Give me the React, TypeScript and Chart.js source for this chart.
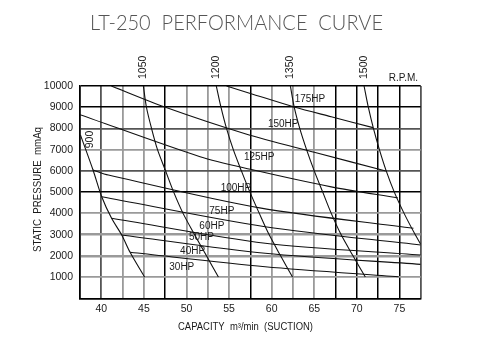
import React, { useEffect, useRef } from 'react';
import { Chart, registerables } from 'chart.js';

Chart.register(...registerables);

// ---- text ----
const chartTitle = 'LT-250  PERFORMANCE  CURVE';
const xAxisTitle = 'CAPACITY  m³/min  (SUCTION)';
const yAxisTitle = 'STATIC  PRESSURE  mmAq';
const rpmUnit = 'R.P.M.';

// ---- axes ----
const xMin = 37.5;
const xMax = 77.5;
const xStep = 2.5;
const xLabelEvery = 5;
const yMin = 0;
const yMax = 10000;
const yStep = 1000;
const xDarkGrid = [37.5, 47.5, 57.5, 67.5, 70, 72.5, 75];
const xMidGrid = [40, 77.5];
const yDarkGrid = [0, 5000, 9000, 10000];
const yMidGrid = [6000, 8000];
const yDoubleGrid = [2000, 3000];

// ---- constant-speed curves (capacity, pressure) ----
const rpmLabels = ['900', '1050', '1200', '1350', '1500'];
const rpm900 = [[37.55, 7700], [39.03, 6044], [40.05, 4786], [41.21, 3768], [42.4, 2982], [43.38, 2167], [45.08, 1000]];
const rpm1050 = [[44.94, 10000], [45.3, 9000], [45.9, 8000], [46.6, 7000], [47.55, 6000], [48.5, 5000], [49.6, 4000], [50.95, 3000], [52.35, 2000], [53.75, 1000]];
const rpm1200 = [[53.5, 10000], [54.05, 9000], [54.7, 8000], [55.5, 7000], [56.45, 6000], [57.45, 5000], [58.55, 4000], [59.7, 3000], [61.05, 2000], [62.45, 1000]];
const rpm1350 = [[62.2, 10000], [62.65, 9000], [63.3, 8000], [64.1, 7000], [65.0, 6000], [66.0, 5000], [67.0, 4000], [68.15, 3000], [69.55, 2000], [71.0, 1000]];
const rpm1500 = [[70.85, 10000], [71.35, 9000], [71.95, 8000], [72.65, 7000], [73.45, 6000], [74.4, 5000], [75.55, 4000], [76.85, 3000], [77.5, 2550]];
const rpm900LabelAt = [38.73, 7480];

// ---- constant-power lines (capacity, pressure) ----
const hp175 = [[54.7, 10000], [57.5, 9650], [62.65, 9010], [67.0, 8550], [71.9, 8040]];
const hp150 = [[41.18, 10000], [47.45, 9011], [56.89, 7753], [65.0, 6880], [73.4, 6000]];
const hp125 = [[37.5, 8650], [51.6, 6670], [57.5, 6076], [67.0, 5250], [74.8, 4730]];
const hp100 = [[39.03, 6044], [40.83, 5808], [58.6, 4260], [76.65, 3300]];
const hp75 = [[40.05, 4786], [59.24, 3373], [77.5, 2511]];
const hp60 = [[41.21, 3768], [59.24, 2591], [77.5, 2040]];
const hp50 = [[42.4, 2982], [59.24, 2120], [77.5, 1600]];
const hp40 = [[43.38, 2167], [59.24, 1488], [74.91, 1017]];

const hpLabels = ['175HP', '150HP', '125HP', '100HP', '75HP', '60HP', '50HP', '40HP', '30HP'];
const hpLabelX = [64.5, 61.36, 58.54, 55.81, 54.15, 52.98, 51.76, 50.72, 49.45];
const hpLabelY = [9374, 8177, 6656, 5181, 4079, 3406, 2854, 2228, 1441];

const curves = [rpm900, rpm1050, rpm1200, rpm1350, rpm1500, hp175, hp150, hp125, hp100, hp75, hp60, hp50, hp40];

const SANS = '"Liberation Sans", Arial, sans-serif';

const textPlugin = {
  id: 'chartTexts',
  afterDraw(chart: any) {
    const { ctx, scales } = chart;
    const xs = scales.x;
    const ys = scales.y;
    ctx.save();

    // main title
    ctx.fillStyle = '#555';
    ctx.font = '300 21px Lato, ' + SANS;
    ctx.textAlign = 'center';
    ctx.textBaseline = 'middle';
    ctx.fillText(chartTitle, 236.5, 23, 293);

    ctx.fillStyle = '#1a1a1a';

    // y-axis title
    ctx.save();
    ctx.font = '10px ' + SANS;
    ctx.translate(38, 189.5);
    ctx.rotate(-Math.PI / 2);
    ctx.fillText(yAxisTitle, 0, 0, 125);
    ctx.restore();

    // x-axis title
    ctx.font = '10px ' + SANS;
    ctx.fillText(xAxisTitle, 245.5, 327, 135);

    // rpm labels above the plot
    ctx.font = '10.5px ' + SANS;
    const rpmCurves = [rpm900, rpm1050, rpm1200, rpm1350, rpm1500];
    for (let i = 1; i < rpmCurves.length; i++) {
      const px = xs.getPixelForValue(rpmCurves[i][0][0]);
      ctx.save();
      ctx.translate(px, 79);
      ctx.rotate(-Math.PI / 2);
      ctx.textAlign = 'left';
      ctx.fillText(rpmLabels[i], 0, 0);
      ctx.restore();
    }
    // 900 label inside plot
    ctx.save();
    ctx.translate(xs.getPixelForValue(rpm900LabelAt[0]), ys.getPixelForValue(rpm900LabelAt[1]));
    ctx.rotate(-Math.PI / 2);
    ctx.textAlign = 'center';
    ctx.fillText(rpmLabels[0], 0, 0);
    ctx.restore();

    ctx.font = '10px ' + SANS;
    ctx.fillText(rpmUnit, 403.5, 78);

    // HP labels
    ctx.font = '10px ' + SANS;
    for (let i = 0; i < hpLabels.length; i++) {
      ctx.fillText(hpLabels[i], xs.getPixelForValue(hpLabelX[i]), ys.getPixelForValue(hpLabelY[i]));
    }
    ctx.restore();
  },
};

const near = (v: number, arr: number[]) => arr.some((a) => Math.abs(a - v) < 1e-6);

export default function App() {
  const ref = useRef<HTMLCanvasElement | null>(null);

  useEffect(() => {
    if (!ref.current) return;
    const chart = new Chart(ref.current, {
      type: 'scatter',
      data: {
        datasets: curves.map((c) => ({
          data: c.map(([x, y]) => ({ x, y })),
          showLine: true,
          borderColor: '#111',
          borderWidth: 1.1,
          pointRadius: 0,
          tension: 0.3,
          fill: false,
        })),
      },
      options: {
        animation: false,
        responsive: false,
        devicePixelRatio: 1,
        events: [],
        layout: { padding: { top: 86, right: 71.3, bottom: 0, left: 0 } },
        plugins: { legend: { display: false }, tooltip: { enabled: false }, title: { display: false } },
        scales: {
          x: {
            type: 'linear',
            min: xMin,
            max: xMax,
            afterFit: (s: any) => { s.height = 55.7; },
            ticks: {
              stepSize: xStep,
              autoSkip: false,
              maxRotation: 0,
              padding: 5,
              color: '#1a1a1a',
              font: { family: SANS, size: 10.5 },
              callback: (v: any) => (Math.abs(v % xLabelEvery) < 1e-6 ? String(v) : ''),
            },
            grid: {
              drawTicks: false,
              color: (c: any) => (near(c.tick.value, xDarkGrid) ? '#000' : near(c.tick.value, xMidGrid) ? '#555' : '#9a9a9a'),
              lineWidth: (c: any) => (near(c.tick.value, xDarkGrid) ? 1.5 : 1.8),
            },
            border: { display: true, color: '#000', width: 1.6 },
          },
          y: {
            type: 'linear',
            min: yMin,
            max: yMax,
            afterFit: (s: any) => { s.width = 80; },
            ticks: {
              stepSize: yStep,
              autoSkip: false,
              padding: 7,
              color: '#1a1a1a',
              font: { family: SANS, size: 10.5 },
              callback: (v: any) => (v === 0 ? '' : String(v)),
            },
            grid: {
              drawTicks: false,
              color: (c: any) => (near(c.tick.value, yDarkGrid) ? '#000' : near(c.tick.value, yMidGrid) ? '#555' : '#9a9a9a'),
              lineWidth: (c: any) => (near(c.tick.value, yDarkGrid) ? 1.5 : near(c.tick.value, yDoubleGrid) ? 2.6 : 1.8),
            },
            border: { display: true, color: '#000', width: 1.6 },
          },
        },
      },
      plugins: [textPlugin],
    });
    return () => chart.destroy();
  }, []);

  return (
    <div style={{ position: 'absolute', left: 0, top: 0, width: 492, height: 354, background: '#fff' }}>
      <canvas ref={ref} width={492} height={354} style={{ display: 'block', width: 492, height: 354 }} />
    </div>
  );
}
